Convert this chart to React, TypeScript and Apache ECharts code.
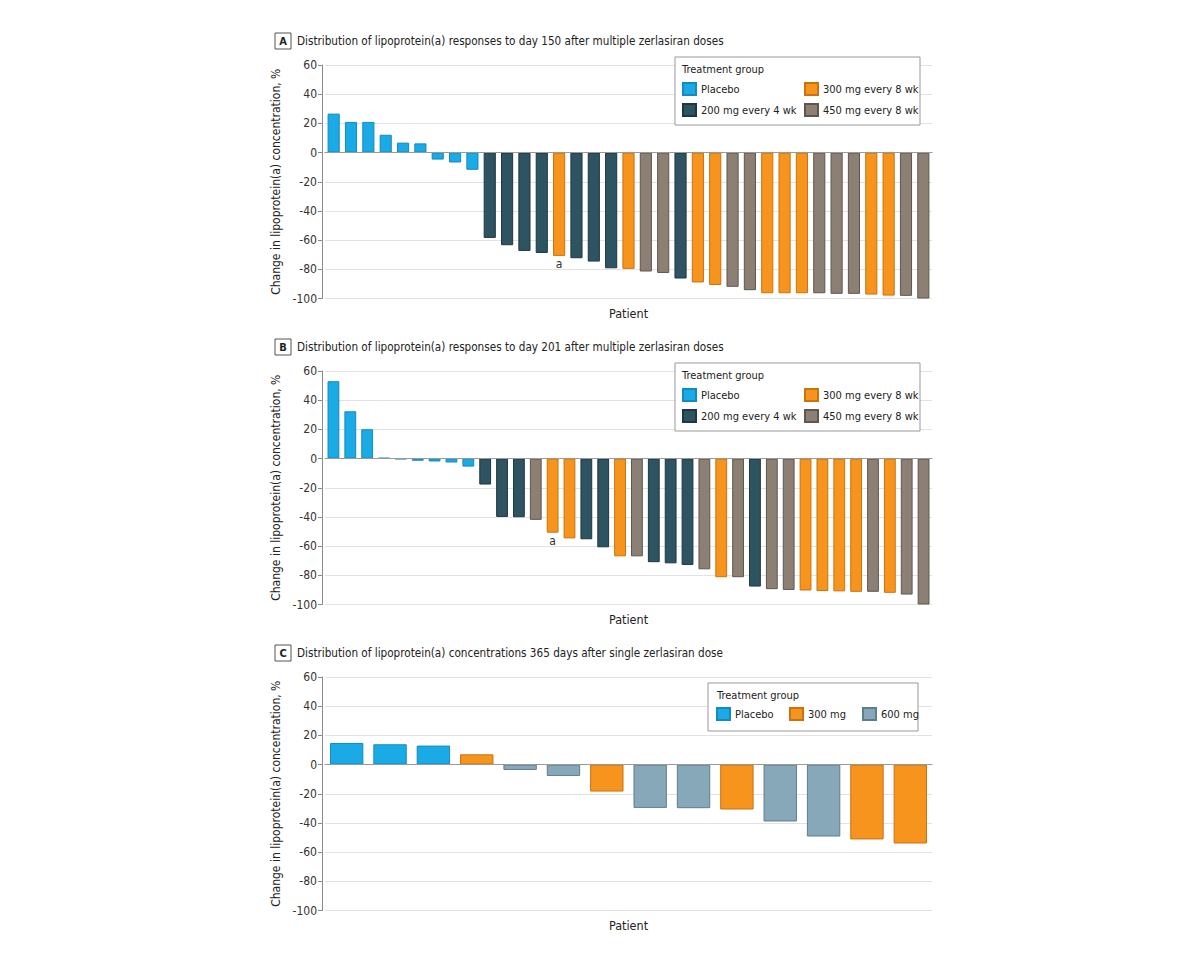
import React, { useEffect, useRef } from "react";
import * as echarts from "echarts";

const FONT = '"DejaVu Sans Condensed", "Liberation Sans Narrow", "Arial Narrow", sans-serif';

// ---------- Data ----------
const titleA = "Distribution of lipoprotein(a) responses to day 150 after multiple zerlasiran doses";
const titleB = "Distribution of lipoprotein(a) responses to day 201 after multiple zerlasiran doses";
const titleC = "Distribution of lipoprotein(a) concentrations 365 days after single zerlasiran dose";

const yTicks = [-100, -80, -60, -40, -20, 0, 20, 40, 60];

const valuesA = [
  26.7, 21, 21, 12.2, 6.8, 6.3, -4.8, -6.8, -11.8,
  -58.5, -63.5, -67.4, -68.8, -70.8, -72.4, -74.7, -79.3, -79.7,
  -81.5, -82.5, -86.3, -89, -90.7, -92, -94.3, -96.4, -96.4,
  -96.4, -96.4, -96.8, -96.8, -97.3, -98, -98.2, -100,
];
const groupsA = [
  "P", "P", "P", "P", "P", "P", "P", "P", "P",
  "D", "D", "D", "D", "O", "D", "D", "D", "O",
  "G", "G", "D", "O", "O", "G", "G", "O", "O",
  "O", "G", "G", "G", "O", "O", "G", "G",
];

const valuesB = [
  53, 32.4, 20.1, 0.5, -0.4, -1.5, -2, -2.7, -5.5,
  -17.8, -40, -40.2, -42, -50.8, -54.7, -55.3, -60.8, -67,
  -67, -71, -71.8, -72.9, -75.9, -81.3, -81.3, -87.7, -89.5,
  -90, -90.4, -90.8, -91, -91.3, -91.3, -92, -93.2, -100,
];
const groupsB = [
  "P", "P", "P", "P", "P", "P", "P", "P", "P",
  "D", "D", "D", "G", "O", "O", "D", "D", "O",
  "G", "D", "D", "D", "G", "O", "G", "D", "G",
  "G", "O", "O", "O", "O", "G", "O", "G", "G",
];

const valuesC = [14.8, 13.9, 13, 7, -3.7, -7.8, -18.5, -29.7, -29.9, -30.8, -39, -49.3, -51.3, -54.1];
const groupsC = ["P", "P", "P", "O3", "L", "L", "O3", "L", "L", "O3", "L", "L", "O3", "O3"];

const annotatedA = 13; // footnote "a"
const annotatedB = 13;

// group definitions: key, name, fill, border
const groupDefsAB = [
  { key: "P", name: "Placebo", color: "#1AABE6", border: "#138BBE" },
  { key: "D", name: "200 mg every 4 wk", color: "#2E5361", border: "#1D3843" },
  { key: "O", name: "300 mg every 8 wk", color: "#F7941D", border: "#C9720E" },
  { key: "G", name: "450 mg every 8 wk", color: "#8B8073", border: "#5F574E" },
];
const groupDefsC = [
  { key: "P", name: "Placebo", color: "#1AABE6", border: "#138BBE" },
  { key: "O3", name: "300 mg", color: "#F7941D", border: "#C9720E" },
  { key: "L", name: "600 mg", color: "#87A8B8", border: "#5E7E8D" },
];

// ---------- Layout ----------
const GRID_LEFT = 325;
const GRID_RIGHT = 268;
const panelTops = [65, 371, 677];
const PLOT_H = 233.5;

function makeSeries(
  panel: number,
  values: number[],
  groups: string[],
  defs: typeof groupDefsAB,
  annotate: number,
  gap: string
) {
  return defs.map((g, gi) => ({
    type: "bar",
    name: g.name,
    xAxisIndex: panel,
    yAxisIndex: panel,
    stack: "s" + panel,
    barCategoryGap: gap,
    itemStyle: { color: g.color, borderColor: g.border, borderWidth: 1 },
    emphasis: { disabled: true },
    data: values.map((v, i) => {
      if (groups[i] !== g.key) return "-";
      if (i === annotate) {
        return {
          value: v,
          label: {
            show: true,
            position: "bottom",
            distance: 2,
            formatter: "a",
            fontSize: 12,
            color: "#333",
            fontFamily: FONT,
          },
        };
      }
      return v;
    }),
    markLine:
      gi === 0
        ? {
            silent: true,
            symbol: "none",
            animation: false,
            label: { show: false },
            lineStyle: { color: "#9a9a9a", type: "solid", width: 1 },
            data: [{ yAxis: 0 }],
          }
        : undefined,
  }));
}

function titleGraphics(letter: string, text: string, top: number) {
  return [
    {
      type: "rect",
      shape: { x: 275, y: top - 8, width: 16, height: 16 },
      style: { fill: "#fff", stroke: "#555", lineWidth: 1 },
    },
    {
      type: "text",
      x: 283,
      y: top,
      style: {
        text: letter,
        fontSize: 11,
        fontWeight: "bold",
        fontFamily: FONT,
        fill: "#222",
        textAlign: "center",
        textVerticalAlign: "middle",
        align: "center",
        verticalAlign: "middle",
      },
    },
    {
      type: "text",
      x: 297,
      y: top,
      scaleX: 0.895,
      style: {
        text,
        fontSize: 13,
        fontFamily: FONT,
        fill: "#222",
        textAlign: "left",
        textVerticalAlign: "middle",
        align: "left",
        verticalAlign: "middle",
      },
    },
  ];
}

function legendBox(x: number, y: number, w: number, h: number, titleX: number, titleY: number) {
  return [
    {
      type: "rect",
      z: 3,
      shape: { x, y, width: w, height: h },
      style: { fill: "#fff", stroke: "#999", lineWidth: 1 },
    },
    {
      type: "text",
      z: 5,
      x: titleX,
      y: titleY,
      style: {
        text: "Treatment group",
        fontSize: 11,
        fontFamily: FONT,
        fill: "#222",
        textAlign: "left",
        textVerticalAlign: "middle",
        align: "left",
        verticalAlign: "middle",
      },
    },
  ];
}

function legendItem(name: string, left: number, top: number) {
  return {
    data: [name],
    left,
    top,
    orient: "horizontal",
    padding: 0,
    itemGap: 0,
    itemWidth: 13,
    itemHeight: 12,
    icon: "rect",
    selectedMode: false,
    z: 6,
    textStyle: { fontSize: 11, color: "#222", fontFamily: FONT },
  };
}

export default function App() {
  const ref = useRef<HTMLDivElement>(null);

  useEffect(() => {
    if (!ref.current) return;
    const chart = echarts.init(ref.current, null, { renderer: "svg" });

    const panels = [valuesA, valuesB, valuesC];

    const grids = panelTops.map((t) => ({
      left: GRID_LEFT,
      right: GRID_RIGHT,
      top: t,
      height: PLOT_H,
      containLabel: false,
    }));

    const xAxes = panels.map((vals, i) => ({
      type: "category",
      gridIndex: i,
      data: vals.map((_, j) => String(j + 1)),
      axisLabel: { show: false },
      axisTick: { show: false },
      axisLine: { show: true, lineStyle: { color: "#8a8a8a", width: 1 } },
      splitLine: { show: false },
      name: "Patient",
      nameLocation: "middle",
      nameGap: 8,
      nameTextStyle: { fontSize: 12.5, color: "#222", fontFamily: FONT, verticalAlign: "top" },
    }));

    const yAxes = panels.map((_, i) => ({
      type: "value",
      gridIndex: i,
      min: yTicks[0],
      max: yTicks[yTicks.length - 1],
      interval: 20,
      offset: 3,
      axisLine: { show: true, lineStyle: { color: "#8a8a8a", width: 1 } },
      axisTick: { show: true, length: 4, lineStyle: { color: "#8a8a8a" } },
      axisLabel: { fontSize: 12, color: "#333", margin: 5, fontFamily: FONT },
      splitLine: { show: true, lineStyle: { color: "#e2e2e2", width: 1 } },
      name: "Change in lipoprotein(a) concentration, %",
      nameLocation: "middle",
      nameGap: 29,
      nameTextStyle: { fontSize: 12, color: "#222", fontFamily: FONT },
    }));

    const series = [
      ...makeSeries(0, valuesA, groupsA, groupDefsAB, annotatedA, "30%"),
      ...makeSeries(1, valuesB, groupsB, groupDefsAB, annotatedB, "30%"),
      ...makeSeries(2, valuesC, groupsC, groupDefsC, -1, "23%"),
    ];

    const legends = [
      legendItem("Placebo", 682, 82),
      legendItem("300 mg every 8 wk", 804, 82),
      legendItem("200 mg every 4 wk", 682, 103),
      legendItem("450 mg every 8 wk", 804, 103),
      legendItem("Placebo", 682, 388),
      legendItem("300 mg every 8 wk", 804, 388),
      legendItem("200 mg every 4 wk", 682, 409),
      legendItem("450 mg every 8 wk", 804, 409),
      legendItem("Placebo", 716, 707),
      legendItem("300 mg", 789, 707),
      legendItem("600 mg", 862, 707),
    ];

    const graphic = [
      ...titleGraphics("A", titleA, 41),
      ...titleGraphics("B", titleB, 347),
      ...titleGraphics("C", titleC, 653),
      ...legendBox(675, 57, 245, 68, 682, 69),
      ...legendBox(675, 363, 245, 68, 682, 375),
      ...legendBox(708, 683, 210, 48, 717, 695),
    ];

    chart.setOption({
      animation: false,
      backgroundColor: "#fff",
      textStyle: { fontFamily: FONT },
      grid: grids,
      xAxis: xAxes,
      yAxis: yAxes,
      legend: legends,
      series,
      graphic,
    });

    return () => chart.dispose();
  }, []);

  return (
    <div
      ref={ref}
      style={{ position: "absolute", left: 0, top: 0, width: 1200, height: 961, background: "#fff" }}
    />
  );
}
